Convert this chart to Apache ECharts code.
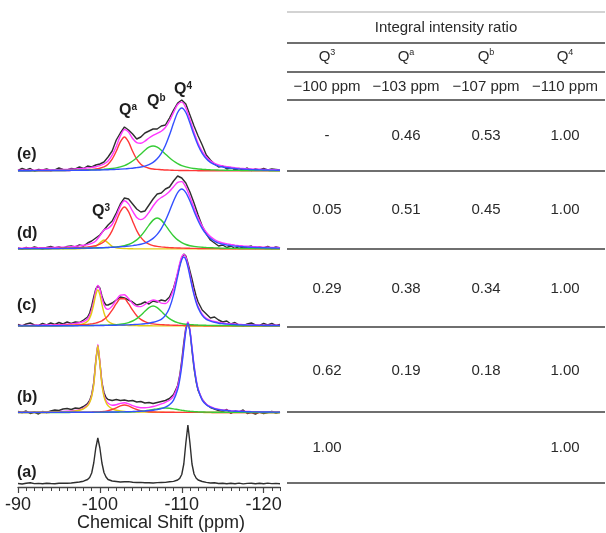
<!DOCTYPE html>
<html>
<head>
<meta charset="utf-8">
<script src="https://cdn.jsdelivr.net/npm/echarts@6/dist/echarts.min.js"></script>
<style>
html, body { margin: 0; padding: 0; background: #fff; }
#chart { width: 606px; height: 533px; }
</style>
</head>
<body>
<div id="chart"></div>
<script>
// Chemical shift sampling (ppm)
const ppmBroad = [-90,-90.5,-91,-91.5,-92,-92.5,-93,-93.5,-94,-94.5,-95,-95.5,-96,-96.5,-97,-97.5,-98,-98.5,-99,-99.5,-100,-100.5,-101,-101.5,-102,-102.5,-103,-103.5,-104,-104.5,-105,-105.5,-106,-106.5,-107,-107.5,-108,-108.5,-109,-109.5,-110,-110.5,-111,-111.5,-112,-112.5,-113,-113.5,-114,-114.5,-115,-115.5,-116,-116.5,-117,-117.5,-118,-118.5,-119,-119.5,-120,-120.5,-121,-121.5,-122];
const ppmFine = [-90,-90.5,-91,-91.5,-92,-92.5,-93,-93.5,-94,-94.5,-95,-95.5,-96,-96.5,-97,-97.5,-98,-98.5,
  -98.75,-99,-99.25,-99.5,-99.75,-100,-100.25,-100.5,-100.75,-101,
  -101.5,-102,-102.5,-103,-103.5,-104,-104.5,-105,-105.5,-106,-106.5,-107,-107.5,-108,-108.5,-109,-109.5,
  -109.75,-110,-110.25,-110.5,-110.75,-111,-111.25,-111.5,-111.75,-112,
  -112.5,-113,-113.5,-114,-114.5,-115,-115.5,-116,-116.5,-117,-117.5,-118,-118.5,-119,-119.5,-120,-120.5,-121,-121.5,-122];

// (e) spectrum: measured trace, deconvoluted components and their sum
const obsE = [0.5,2.5,1,2.5,0,1.5,1,2,0.5,1,3,1.5,1,2.5,2,4,2.5,5,4,6,7,9,14,20,31,38,44,41,37,32,34,38,40,42,42,45,46,53,61,68,71,67,56,45,35,26,16,11,7,4,5,2,3.5,1,2.5,1,3,0.5,2,1,2.5,1,2,1.5,1];
const qaE = [0.2,0.2,0.2,0.2,0.2,0.2,0.3,0.3,0.3,0.4,0.4,0.5,0.5,0.6,0.7,0.9,1.0,1.3,1.6,2.0,2.8,4.1,6.7,11.8,19.7,29.1,34,29.1,19.7,11.8,6.7,4.1,2.8,2.0,1.6,1.3,1.0,0.9,0.7,0.6,0.5,0.5,0.4,0.4,0.3,0.3,0.3,0.2,0.2,0.2,0.2,0.2,0.2,0.1,0.1,0.1,0.1,0.1,0.1,0.1,0.1,0.1,0.1,0.1,0.1];
const qbE = [0.24,0.25,0.27,0.29,0.31,0.33,0.35,0.38,0.41,0.45,0.49,0.53,0.58,0.63,0.7,0.78,0.87,0.98,1.1,1.25,1.45,1.7,2.0,2.5,3.1,4.1,5.4,7.4,10.0,13.2,17.0,20.8,23.8,25,23.8,20.8,17.0,13.2,10.0,7.4,5.4,4.1,3.1,2.5,2.0,1.7,1.45,1.25,1.1,0.98,0.87,0.78,0.7,0.63,0.58,0.53,0.49,0.45,0.41,0.38,0.35,0.33,0.31,0.29,0.27];
const q4E = [0.27,0.28,0.3,0.32,0.34,0.36,0.38,0.4,0.43,0.46,0.49,0.52,0.55,0.6,0.64,0.69,0.74,0.81,0.88,0.96,1.05,1.17,1.3,1.45,1.65,1.85,2.1,2.5,2.8,3.4,4.0,4.9,6.4,8.6,12.2,17.6,25.5,35.9,47.9,58.5,63,58.5,47.9,35.9,25.5,17.6,12.2,8.6,6.4,4.9,4.0,3.4,2.8,2.5,2.1,1.85,1.65,1.45,1.3,1.17,1.05,0.96,0.88,0.81,0.74];
const sumE = [0.7,0.7,0.8,0.8,0.9,0.9,1.0,1.1,1.1,1.3,1.4,1.6,1.6,1.8,2.0,2.4,2.6,3.1,3.6,4.2,5.3,7.0,10.0,15.8,24.5,35.1,41.5,39.0,32.5,28.4,27.7,29.8,33.0,35.6,37.6,39.7,43.5,50.0,58.6,66.5,68.9,63.1,51.4,38.8,27.8,19.6,14.0,10.1,7.7,6.1,5.1,4.4,3.7,3.2,2.8,2.5,2.2,2.0,1.8,1.7,1.5,1.4,1.3,1.2,1.1];

// (d) spectrum
const obsD = [1,0,1.5,0.5,2,1,0,1.5,2.5,1,2,0.5,2.5,3,2,4,3,6,8,11,14,19,24,28,36,45,51,50,45,40,37,38,44,50,55,56,60,62,68,73,71,66,57,46,34,23,15,9,6,3,4,1.5,3,0.5,2.5,1,2,3,0.5,2,1,2.5,0.5,2,1];
const q3D = [0.1,0.1,0.1,0.1,0.1,0.1,0.1,0.1,0.1,0.1,0.1,0.1,0.1,0.1,0.2,0.3,0.4,0.6,1.1,2.6,6.1,9,6.1,2.6,1.1,0.6,0.4,0.3,0.2,0.1,0.1,0.1,0.1,0.1,0.1,0.1,0.1,0.1,0.1,0.1,0.1,0.1,0.1,0.1,0.1,0.1,0.1,0.1,0.1,0.1,0.1,0.1,0.1,0.1,0.1,0.1,0.1,0.1,0.1,0.1,0.1,0.1,0.1,0.1,0.1];
const qaD = [0.27,0.29,0.31,0.34,0.37,0.41,0.45,0.5,0.55,0.62,0.7,0.8,0.9,1.05,1.2,1.4,1.7,2.1,2.6,3.4,4.8,7.3,11.6,18.4,27.8,37.4,42,37.4,27.8,18.4,11.6,7.3,4.8,3.4,2.6,2.1,1.7,1.4,1.2,1.05,0.9,0.8,0.7,0.62,0.55,0.5,0.45,0.41,0.37,0.34,0.31,0.29,0.27,0.25,0.24,0.22,0.2,0.19,0.18,0.17,0.16,0.15,0.14,0.14,0.13];
const qbD = [0.2,0.21,0.22,0.24,0.25,0.27,0.29,0.31,0.33,0.36,0.39,0.43,0.47,0.51,0.56,0.62,0.68,0.76,0.84,0.96,1.1,1.3,1.5,1.8,2.1,2.6,3.3,4.5,6.4,9.1,13.0,18.2,23.9,28.9,31,28.9,23.9,18.2,13.0,9.1,6.4,4.5,3.3,2.6,2.1,1.8,1.5,1.3,1.1,0.96,0.84,0.76,0.68,0.62,0.56,0.51,0.47,0.43,0.39,0.36,0.33,0.31,0.29,0.27,0.25];
const q4D = [0.32,0.34,0.36,0.38,0.4,0.42,0.44,0.47,0.5,0.53,0.56,0.6,0.65,0.7,0.75,0.81,0.88,0.96,1.04,1.14,1.24,1.38,1.5,1.7,1.9,2.2,2.5,2.9,3.4,4.0,4.7,5.9,7.9,10.6,14.6,20.4,28.3,37.8,48.0,56.4,60,56.4,48.0,37.8,28.3,20.4,14.6,10.6,7.9,5.9,4.7,4.0,3.4,2.9,2.5,2.2,1.9,1.7,1.5,1.38,1.24,1.14,1.04,0.96,0.88];
const sumD = [0.9,0.9,1.0,1.1,1.1,1.2,1.3,1.4,1.5,1.6,1.8,1.9,2.1,2.4,2.7,3.1,3.7,4.4,5.6,8.1,13.2,19.0,20.7,24.5,32.9,42.8,48.2,45.1,37.8,31.6,29.4,31.5,36.7,43.0,48.3,51.5,54.0,57.5,62.3,66.7,67.4,61.8,52.1,41.1,31.1,22.8,16.7,12.4,9.5,7.3,6.0,5.2,4.5,3.9,3.4,3.0,2.7,2.4,2.2,2.0,1.8,1.7,1.6,1.5,1.4];

// (c) spectrum
const obsC = [1.5,0,2,3,1,0.5,2.5,1,3,1.5,3.5,2,4,2.5,4,3.5,6,9,
  13,20,29,37,40,38,30,24,21,21,
  23,26,29,28,26,24,21,22,24,22,25,24,26,25,29,38,52,
  61,68,72,70,63,55,47,38,30,24,
  16,12,8,9,6,4,5,2,3.5,1,0,2,3,1,0.5,2.5,1,2.5,0.5,1.5];
const q3C = [0.08,0.09,0.1,0.11,0.13,0.15,0.17,0.2,0.23,0.28,0.34,0.42,0.54,0.72,1.0,1.4,2.3,4.8,
  7.8,13.3,21.6,31.2,36,31.2,21.6,13.3,7.8,4.8,
  2.3,1.4,1.0,0.72,0.54,0.42,0.34,0.28,0.23,0.2,0.17,0.15,0.13,0.11,0.1,0.09,0.08,
  0.08,0.08,0.08,0.07,0.07,0.07,0.07,0.06,0.06,0.06,
  0.06,0.05,0.05,0.05,0.05,0.04,0.04,0.04,0.04,0.04,0.04,0.04,0.04,0.04,0.04,0.04,0.04,0.04,0.04,0.04];
const qaC = [0.2,0.21,0.23,0.25,0.27,0.3,0.33,0.37,0.41,0.46,0.52,0.6,0.69,0.8,0.93,1.12,1.37,1.65,
  1.9,2.1,2.5,2.9,3.5,4.3,5.2,6.6,8.2,10.3,
  15.8,22.3,27.2,27.2,22.3,15.8,10.3,6.6,4.3,2.9,2.1,1.65,1.37,1.12,0.93,0.8,0.69,
  0.64,0.6,0.56,0.52,0.49,0.46,0.43,0.41,0.39,0.37,
  0.33,0.3,0.27,0.25,0.23,0.21,0.2,0.19,0.18,0.17,0.16,0.15,0.14,0.13,0.13,0.12,0.12,0.11,0.11,0.1];
const qbC = [0.11,0.12,0.13,0.14,0.15,0.16,0.17,0.18,0.19,0.21,0.23,0.25,0.27,0.3,0.33,0.37,0.41,0.46,
  0.49,0.52,0.56,0.6,0.64,0.68,0.74,0.8,0.86,0.94,
  1.14,1.4,1.76,2.4,3.4,5.0,7.4,10.7,14.7,18.4,20,18.4,14.7,10.7,7.4,5.0,3.4,
  2.8,2.4,2.0,1.76,1.55,1.4,1.25,1.14,1.03,0.94,
  0.8,0.68,0.6,0.52,0.46,0.41,0.37,0.33,0.3,0.27,0.25,0.23,0.21,0.19,0.18,0.17,0.16,0.15,0.14,0.13];
const q4C = [0.14,0.14,0.15,0.16,0.17,0.18,0.19,0.2,0.21,0.22,0.23,0.25,0.27,0.28,0.31,0.33,0.36,0.39,
  0.41,0.43,0.45,0.47,0.5,0.52,0.55,0.57,0.6,0.63,
  0.7,0.79,0.89,1.01,1.16,1.35,1.59,1.86,2.3,2.8,3.7,4.8,6.6,10.6,18.1,31.1,49.6,
  59.1,66.3,69,66.3,59.1,49.6,39.9,31.1,23.8,18.1,
  10.6,6.6,4.8,3.7,2.8,2.3,1.86,1.59,1.35,1.16,1.01,0.89,0.79,0.7,0.63,0.57,0.52,0.47,0.43,0.39];
const sumC = [0.5,0.6,0.6,0.7,0.7,0.8,0.9,1.0,1.0,1.2,1.3,1.5,1.8,2.1,2.6,3.2,4.4,7.3,
  10.6,16.4,25.1,35.2,40.6,36.7,28.1,21.3,17.5,16.7,
  19.9,25.9,30.9,31.3,27.4,22.6,19.6,19.4,21.5,24.3,26.0,25.0,22.8,22.5,26.5,37.0,53.8,
  62.6,69.4,71.6,68.7,61.2,51.5,41.7,32.7,25.3,19.5,
  11.8,7.6,5.7,4.5,3.5,2.9,2.4,2.1,1.8,1.6,1.4,1.3,1.1,1.0,0.9,0.9,0.8,0.7,0.7,0.6];

// (b) spectrum
const obsB = [1,0,1.5,-1,0.5,-1.5,1,0,1.5,2.5,2,3.5,4,3,4.5,4,6,9,
  12,18,30,52,67,50,30,20,15,13,
  12,13,12,12.5,11.5,12,10.5,11,9.5,10,9,10,11,12,14,18,27,
  37,52,70,85,90,82,62,44,31,22,
  13,8,5,3.5,2,1,3,-1,1.5,0.5,2.5,-1,0,-1.5,0.5,-1,0,1,-0.5,0.5];
const q3B = [0.12,0.14,0.15,0.17,0.19,0.22,0.26,0.3,0.36,0.43,0.52,0.65,0.83,1.1,1.53,2.26,3.6,6.8,
  10.0,16.0,27.7,49.5,67,49.5,27.7,16.0,10.0,6.8,
  3.6,2.26,1.53,1.1,0.83,0.65,0.52,0.43,0.36,0.3,0.26,0.22,0.19,0.17,0.15,0.14,0.12,
  0.11,0.1,0.1,0.1,0.1,0.09,0.09,0.09,0.08,0.08,
  0.08,0.07,0.07,0.06,0.06,0.05,0.05,0.05,0.05,0.04,0.04,0.04,0.04,0.04,0.04,0.03,0.03,0.03,0.03,0.03];
const qaB = [0.04,0.04,0.05,0.05,0.05,0.06,0.06,0.07,0.08,0.09,0.1,0.11,0.14,0.16,0.19,0.22,0.26,0.32,
  0.36,0.4,0.46,0.53,0.61,0.72,0.88,1.1,1.4,1.8,
  3.0,4.7,6.6,7.5,6.6,4.7,3.0,1.8,1.1,0.72,0.53,0.4,0.32,0.26,0.22,0.19,0.16,
  0.15,0.14,0.13,0.13,0.12,0.12,0.11,0.11,0.1,0.1,
  0.09,0.08,0.08,0.07,0.07,0.06,0.06,0.06,0.06,0.05,0.05,0.05,0.05,0.05,0.05,0.04,0.04,0.04,0.04,0.04];
const qbB = [0.03,0.03,0.04,0.04,0.04,0.04,0.05,0.05,0.05,0.06,0.06,0.07,0.07,0.08,0.09,0.09,0.1,0.11,
  0.12,0.13,0.14,0.14,0.15,0.16,0.17,0.18,0.19,0.2,
  0.23,0.27,0.33,0.4,0.5,0.65,0.88,1.21,1.66,2.25,2.95,3.67,4.27,4.5,4.27,3.67,2.95,
  2.6,2.25,1.95,1.66,1.42,1.21,1.03,0.88,0.76,0.65,
  0.5,0.4,0.33,0.27,0.23,0.2,0.18,0.16,0.15,0.13,0.12,0.1,0.1,0.09,0.08,0.07,0.07,0.06,0.06,0.05];
const q4B = [0.09,0.1,0.1,0.1,0.11,0.12,0.13,0.14,0.15,0.16,0.17,0.18,0.19,0.21,0.22,0.24,0.26,0.28,
  0.3,0.31,0.32,0.34,0.35,0.37,0.39,0.41,0.43,0.45,
  0.5,0.56,0.63,0.71,0.81,0.94,1.09,1.28,1.54,1.87,2.3,2.9,3.8,5.3,7.7,12.4,23.0,
  32.7,46.4,63.9,81.2,89,81.2,63.9,46.4,32.7,23.0,
  12.4,7.7,5.3,3.8,2.9,2.3,1.87,1.54,1.28,1.09,0.94,0.81,0.71,0.63,0.56,0.5,0.45,0.41,0.37,0.34];
const sumB = [0.3,0.3,0.3,0.4,0.4,0.4,0.5,0.6,0.6,0.7,0.9,1.0,1.2,1.6,2.0,2.8,4.2,7.5,
  10.8,16.8,28.6,50.5,68.1,50.8,29.1,17.7,12.0,9.3,
  7.3,7.8,9.1,9.7,8.7,6.9,5.5,4.7,4.7,5.1,6.0,7.2,8.6,10.2,12.3,16.4,26.2,
  35.6,48.9,66.1,83.1,90.6,82.6,65.1,47.5,33.6,23.8,
  13.1,8.3,5.8,4.2,3.3,2.6,2.2,1.8,1.5,1.3,1.2,1.0,0.9,0.8,0.7,0.6,0.6,0.5,0.5,0.5];

// (a) spectrum: measured trace only
const obsA = [0.5,0,0.8,1.2,0.4,0.6,0.2,0.8,0.5,0.3,0.7,0.9,0.8,1.0,1.5,2.0,2.8,4.5,
  6.5,11,21,36,46,36,21,11.5,7,4.5,
  3,2.5,2,2.2,2.4,1.8,1.5,1.6,1.2,1.3,1.0,1.4,1.5,1.6,2.2,2.6,4.0,
  5.6,9.5,20,41,59,41,20,10,6,4,
  2.5,1.6,1.0,1.2,0.5,0.8,0.2,0.7,0.3,0.9,0.1,0.6,0.8,0.2,0.7,0.3,0.9,0.4,0.6,0.3];

// Axis ticks
const majorTicks = [-90, -100, -110, -120];
const minorTicks = [-91,-92,-93,-94,-95,-96,-97,-98,-99,-101,-102,-103,-104,-105,-106,-107,-108,-109,-111,-112,-113,-114,-115,-116,-117,-118,-119,-121,-122];

// Table content (rows top to bottom: e, d, c, b, a)
const sampleTags = ['(e)', '(d)', '(c)', '(b)', '(a)'];
const siteSup = ['3', 'a', 'b', '4'];
const siteShift = ['\u2212100 ppm', '\u2212103 ppm', '\u2212107 ppm', '\u2212110 ppm'];
const ratioQ3 = ['-', 0.05, 0.29, 0.62, 1.00];
const ratioQa = [0.46, 0.51, 0.38, 0.19, ''];
const ratioQb = [0.53, 0.45, 0.34, 0.18, ''];
const ratioQ4 = [1.00, 1.00, 1.00, 1.00, 1.00];

// ---- layout ----
const FONT = '"Liberation Sans", Arial, Helvetica, sans-serif';
const plot = { left: 18, right: 326, top: 0, bottom: 46 };
const yRange = 487;                 // grid height in intensity units
const baseE = 316, baseD = 238, baseC = 161, baseB = 74.5, baseA = 3;

const COL = {
  obs: '#2e2e2e', sum: '#ff38ff', q3: '#e3cc14', qa: '#ff3838', qb: '#36cc36', q4: '#3450ff'
};

function trace(ppm, vals, base, color, width, z, smooth) {
  return {
    type: 'line', silent: true, animation: false, clip: false,
    showSymbol: false, symbol: 'none', smooth: smooth ? 0.25 : false,
    data: ppm.map((x, i) => [x, vals[i] + base]),
    lineStyle: { color: color, width: width }, z: z
  };
}

const series = [];
function addSpectrum(ppm, obs, fits, base) {
  series.push(trace(ppm, obs, base, COL.obs, 1.4, 2, false));
  if (!fits) return;
  series.push(trace(ppm, fits.sum, base, COL.sum, 1.4, 3, true));
  if (fits.q3) series.push(trace(ppm, fits.q3, base, COL.q3, 1.4, 4, true));
  series.push(trace(ppm, fits.qa, base, COL.qa, 1.4, 4, true));
  series.push(trace(ppm, fits.qb, base, COL.qb, 1.4, 4, true));
  series.push(trace(ppm, fits.q4, base, COL.q4, 1.4, 5, true));
}
addSpectrum(ppmFine, obsA, null, baseA);
addSpectrum(ppmFine, obsB, { sum: sumB, q3: q3B, qa: qaB, qb: qbB, q4: q4B }, baseB);
addSpectrum(ppmFine, obsC, { sum: sumC, q3: q3C, qa: qaC, qb: qbC, q4: q4C }, baseC);
addSpectrum(ppmBroad, obsD, { sum: sumD, q3: q3D, qa: qaD, qb: qbD, q4: q4D }, baseD);
addSpectrum(ppmBroad, obsE, { sum: sumE, qa: qaE, qb: qbE, q4: q4E }, baseE);

// ---- annotations ----
const graphic = [];
const tagY = [155, 234, 306, 398, 473];
sampleTags.forEach((t, i) => graphic.push({
  type: 'text', x: 17, y: tagY[i], silent: true,
  style: { text: t, font: 'bold 16px ' + FONT, fill: '#1e1e1e', verticalAlign: 'middle', align: 'left' }
}));

const peakRich = {
  q: { fontFamily: FONT, fontWeight: 'bold', fontSize: 16, lineHeight: 18, fill: '#1e1e1e', color: '#1e1e1e' },
  s: { fontFamily: FONT, fontWeight: 'bold', fontSize: 10, lineHeight: 18, verticalAlign: 'top', fill: '#1e1e1e', color: '#1e1e1e' }
};
[['a', 119, 111], ['b', 147, 102], ['4', 174, 90], ['3', 92, 212]].forEach(p => graphic.push({
  type: 'text', x: p[1], y: p[2], silent: true,
  style: { text: '{q|Q}{s|' + p[0] + '}', rich: peakRich, verticalAlign: 'middle', align: 'left' }
}));

graphic.push({
  type: 'text', x: 161, y: 523, silent: true,
  style: { text: 'Chemical Shift (ppm)', font: '18px ' + FONT, fill: '#222', align: 'center', verticalAlign: 'middle' }
});

// ---- table ----
const tX0 = 287, tX1 = 605;
const colX = [327, 406, 486, 565];
const rowY = [136, 210, 289, 371, 448];
const ruleY = [43, 72, 100, 171, 249, 327, 412, 483];
graphic.push({ type: 'line', silent: true, shape: { x1: tX0, y1: 12, x2: tX1, y2: 12 }, style: { stroke: '#c4c4c4', lineWidth: 1.5 } });
ruleY.forEach(y => graphic.push({
  type: 'line', silent: true, shape: { x1: tX0, y1: y, x2: tX1, y2: y }, style: { stroke: '#6f6f6f', lineWidth: 1.8 }
}));
graphic.push({
  type: 'text', x: (tX0 + tX1) / 2, y: 28, silent: true,
  style: { text: 'Integral intensity ratio', font: '15px ' + FONT, fill: '#2a2a2a', align: 'center', verticalAlign: 'middle' }
});
const headRich = {
  q: { fontFamily: FONT, fontSize: 15, lineHeight: 17, color: '#2a2a2a', fill: '#2a2a2a' },
  s: { fontFamily: FONT, fontSize: 9, lineHeight: 17, verticalAlign: 'top', color: '#2a2a2a', fill: '#2a2a2a' }
};
siteSup.forEach((s, j) => {
  graphic.push({
    type: 'text', x: colX[j], y: 57, silent: true,
    style: { text: '{q|Q}{s|' + s + '}', rich: headRich, align: 'center', verticalAlign: 'middle' }
  });
  graphic.push({
    type: 'text', x: colX[j], y: 87, silent: true,
    style: { text: siteShift[j], font: '15px ' + FONT, fill: '#2a2a2a', align: 'center', verticalAlign: 'middle' }
  });
});
const fmt = v => (typeof v === 'number' ? v.toFixed(2) : v);
[ratioQ3, ratioQa, ratioQb, ratioQ4].forEach((col, j) => col.forEach((v, i) => {
  const t = fmt(v);
  if (t === '') return;
  graphic.push({
    type: 'text', x: colX[j], y: rowY[i], silent: true,
    style: { text: t, font: '15px ' + FONT, fill: '#2a2a2a', align: 'center', verticalAlign: 'middle' }
  });
}));

const chart = echarts.init(document.getElementById('chart'), null, { renderer: 'canvas' });
chart.setOption({
  animation: false,
  backgroundColor: '#ffffff',
  grid: { left: plot.left, right: plot.right, top: plot.top, bottom: plot.bottom, containLabel: false },
  xAxis: [
    {
      type: 'value', min: -122, max: -90, inverse: true, position: 'bottom',
      axisLine: { show: true, lineStyle: { color: '#444', width: 1.3 } },
      axisTick: { show: true, customValues: majorTicks, length: 6, lineStyle: { color: '#444', width: 1.2 } },
      axisLabel: { show: true, customValues: majorTicks, margin: 9, fontSize: 18, fontFamily: FONT, color: '#222',
        formatter: v => String(v) },
      splitLine: { show: false }
    },
    {
      type: 'value', min: -122, max: -90, inverse: true, position: 'bottom',
      axisLine: { show: false },
      axisTick: { show: true, customValues: minorTicks, length: 4, lineStyle: { color: '#444', width: 1 } },
      axisLabel: { show: false },
      splitLine: { show: false }
    }
  ],
  yAxis: { type: 'value', min: 0, max: yRange, show: false },
  series: series,
  graphic: graphic
});
</script>
</body>
</html>
